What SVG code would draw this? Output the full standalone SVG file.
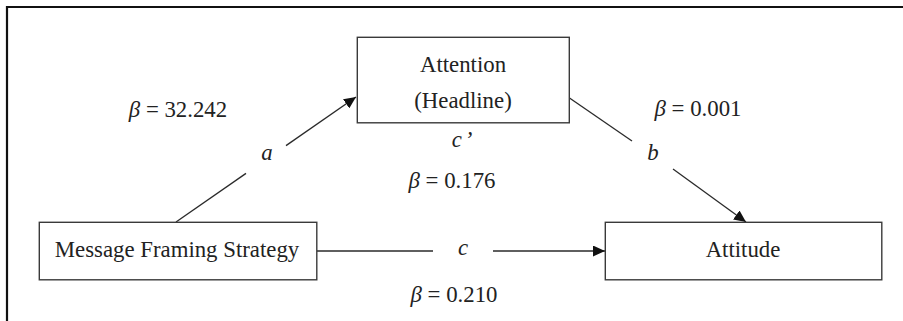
<svg xmlns="http://www.w3.org/2000/svg" width="903" height="321" viewBox="0 0 903 321">
  <defs>
    <style>
      .box { fill: #ffffff; stroke: #3a3a3a; stroke-width: 1.4; }
      .lbl { font-family: "Liberation Serif", "Times New Roman", serif; font-size: 22.8px; fill: #222222; text-anchor: middle; }
      .it { font-style: italic; }
      .edge { stroke: #2a2a2a; stroke-width: 1.3; fill: none; }
    </style>
    <marker id="arrow" markerUnits="userSpaceOnUse" markerWidth="12" markerHeight="11" refX="12" refY="5.5" orient="auto">
      <path d="M0,0 L12,5.5 L0,11 z" fill="#111111"/>
    </marker>
  </defs>

  <rect width="903" height="321" fill="#ffffff"/>
  <!-- outer frame (open to the right and bottom) -->
  <path d="M7,321 V7 H903" fill="none" stroke="#111111" stroke-width="2.2"/>

  <g id="connectors">
    <!-- a: framing -> attention -->
    <line class="edge" x1="176" y1="222" x2="246" y2="173.4"/>
    <line class="edge" x1="286" y1="145.6" x2="356" y2="97" marker-end="url(#arrow)"/>
    <!-- b: attention -> attitude -->
    <line class="edge" x1="569.5" y1="98" x2="632" y2="141"/>
    <line class="edge" x1="673" y1="169" x2="746" y2="222" marker-end="url(#arrow)"/>
    <!-- c: framing -> attitude -->
    <line class="edge" x1="317" y1="251" x2="433" y2="251"/>
    <line class="edge" x1="493" y1="251" x2="605" y2="251" marker-end="url(#arrow)"/>

    <text class="lbl it" x="267" y="160">a</text>
    <text class="lbl it" x="653" y="160">b</text>
    <text class="lbl it" x="463" y="255">c</text>
    <text class="lbl it" x="462" y="147">c<tspan dx="3">’</tspan></text>

    <text class="lbl" x="178" y="117"><tspan class="it">β</tspan> = 32.242</text>
    <text class="lbl" x="698" y="116"><tspan class="it">β</tspan> = 0.001</text>
    <text class="lbl" x="452" y="188"><tspan class="it">β</tspan> = 0.176</text>
    <text class="lbl" x="454" y="302"><tspan class="it">β</tspan> = 0.210</text>
  </g>

  <g id="attention">
    <rect class="box" x="357.3" y="37.3" width="212" height="85.5"/>
    <text class="lbl" x="463" y="71.5">Attention</text>
    <text class="lbl" x="463" y="108">(Headline)</text>
  </g>

  <g id="framing">
    <rect class="box" x="39.3" y="222.3" width="277.5" height="57.5"/>
    <text class="lbl" x="177" y="257">Message Framing Strategy</text>
  </g>

  <g id="attitude">
    <rect class="box" x="605.3" y="222.3" width="276.5" height="57.5"/>
    <text class="lbl" x="743" y="257">Attitude</text>
  </g>
</svg>
